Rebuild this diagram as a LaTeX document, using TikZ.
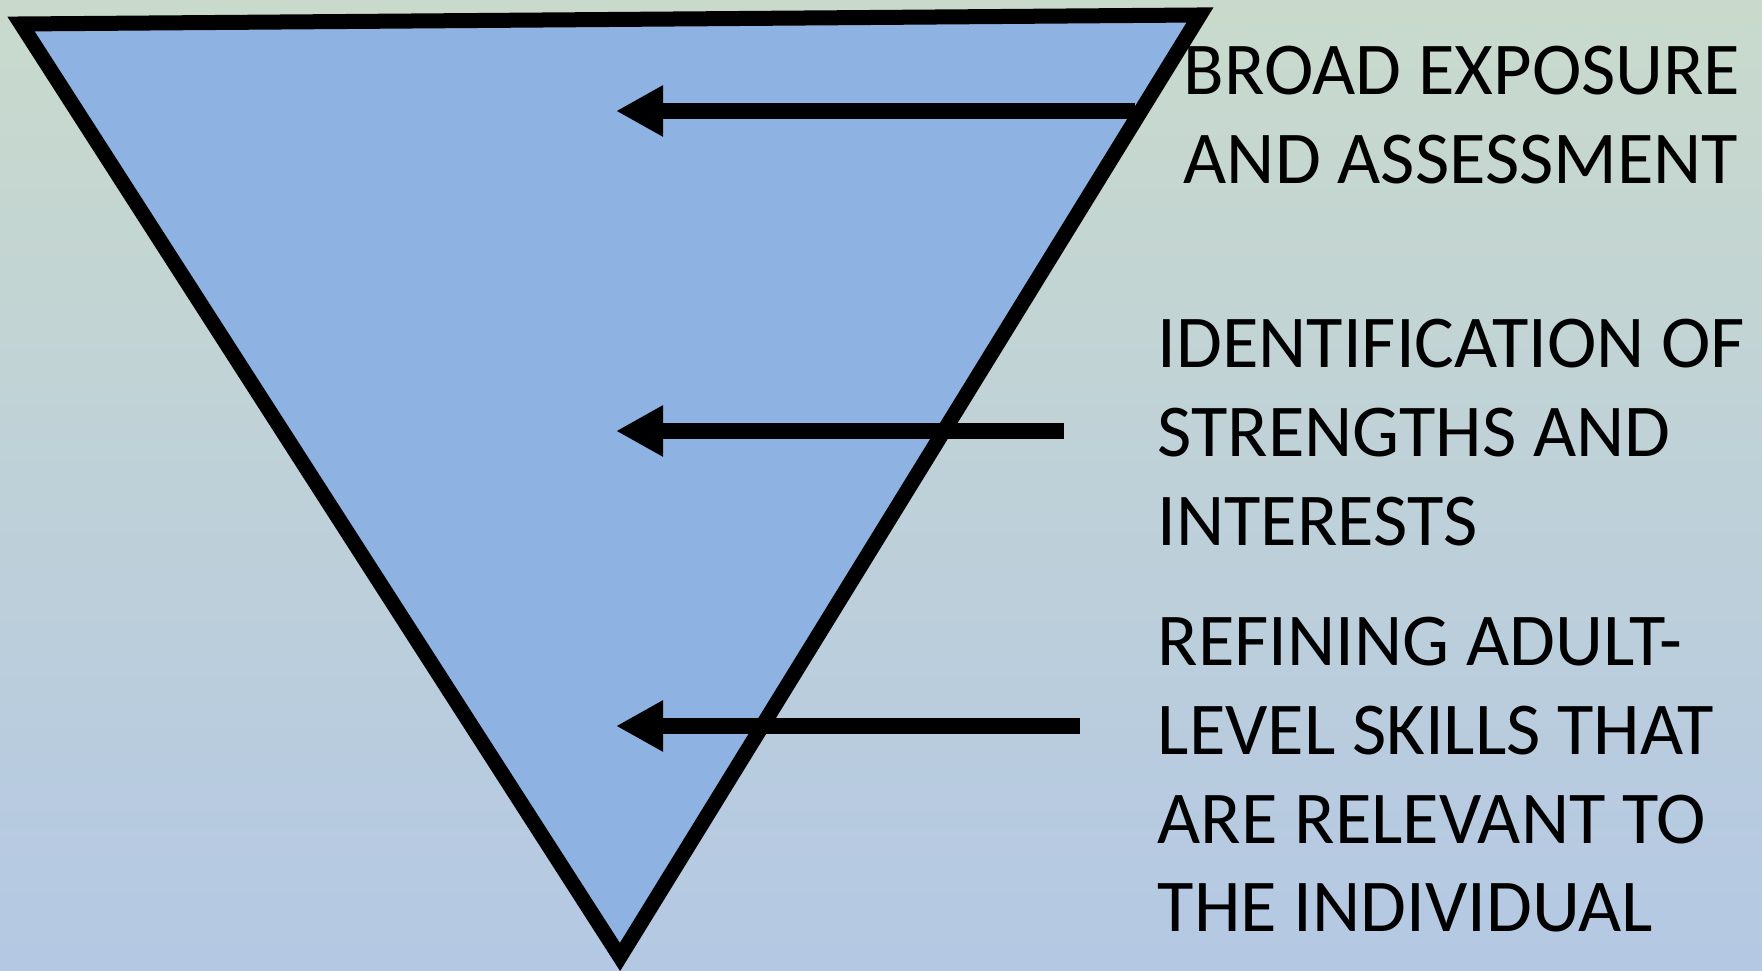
\documentclass[tikz,border=0pt]{standalone}
\usepackage{fontspec}
\setmainfont{Carlito}
\usetikzlibrary{arrows.meta}
\definecolor{bgtop}{HTML}{C9DACC}
\definecolor{bgbot}{HTML}{B4C8E4}
\definecolor{funnel}{HTML}{8EB3E3}
\tikzset{
  funnelshape/.style={draw=black, fill=funnel, line width=0.15cm, line join=miter},
  pointer/.style={draw=black, line width=0.16cm, line cap=butt,
    -{Triangle[length=0.47cm,width=0.48cm]}},
  label/.style={anchor=north west, inner sep=0pt, align=left, text=black,
    font=\fontsize{21.2pt}{25.3pt}\selectfont}
}
\begin{document}
\begin{tikzpicture}[x=0.01cm, y=-0.01cm]
  % canvas with soft vertical gradient
  \useasboundingbox (0,0) rectangle (1762,971);
  \shade[top color=bgtop, bottom color=bgbot] (0,0) rectangle (1762,971);

  % inverted funnel
  \coordinate (tl) at (21,24);
  \coordinate (tr) at (1200,15);
  \coordinate (apex) at (620,957);
  \draw[funnelshape] (tl) -- (tr) -- (apex) -- cycle;

  % stage labels
  \node[label] (broad) at (1183,45) {BROAD EXPOSURE\\AND ASSESSMENT};
  \node[label] (ident) at (1157,318) {IDENTIFICATION OF\\STRENGTHS AND\\INTERESTS};
  \node[label] (refine) at (1157,616) {REFINING ADULT-\\LEVEL SKILLS THAT\\ARE RELEVANT TO\\THE INDIVIDUAL};

  % arrow ends
  \coordinate (s1) at (1135,111);
  \coordinate (e1) at (616,111);
  \coordinate (s2) at (1064,431);
  \coordinate (e2) at (616,431);
  \coordinate (s3) at (1080,726);
  \coordinate (e3) at (616,726);

  \draw[pointer] (s1) -- (e1);
  \draw[pointer] (s2) -- (e2);
  \draw[pointer] (s3) -- (e3);
\end{tikzpicture}
\end{document}
